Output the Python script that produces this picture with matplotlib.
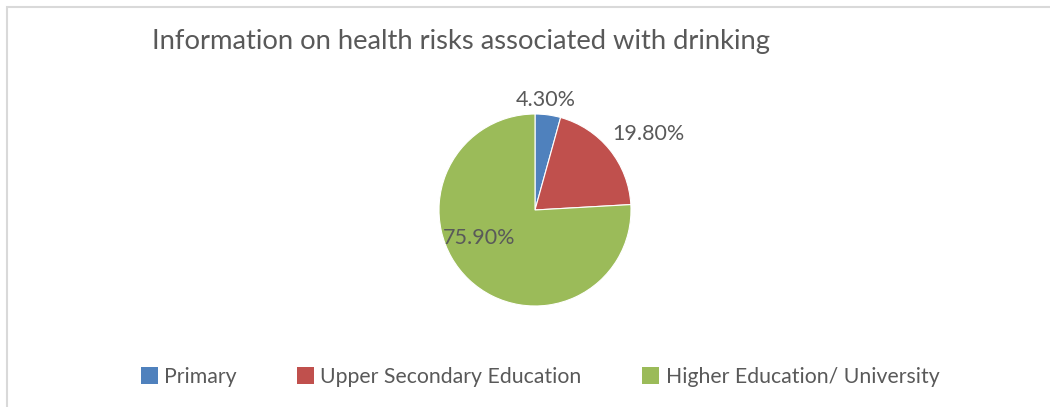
import matplotlib
matplotlib.use("Agg")
import matplotlib.pyplot as plt
from matplotlib.patches import Rectangle, Patch

plt.rcParams['font.family'] = ['Lato', 'DejaVu Sans']

title = "Information on health risks associated with drinking"
categories = ["Primary", "Upper Secondary Education", "Higher Education/ University"]
values = [4.3, 19.8, 75.9]
labels = ["4.30%", "19.80%", "75.90%"]
colors = ["#4F81BD", "#C0504D", "#9BBB59"]
txt = "#595959"

W, H = 1050, 407
fig = plt.figure(figsize=(W / 100, H / 100), dpi=100)

# chart border (only left/top inside the picture)
fig.patches.append(Rectangle((7 / W, -0.1), 1.2, (H - 7) / H + 0.1, transform=fig.transFigure,
                             fill=False, edgecolor="#D9D9D9", linewidth=1.5))

fig.text(152 / W, 1 - 42 / H, title, fontsize=19.7, color=txt, va="center", ha="left")

cx, cy, r = 535, 210, 96
ax = fig.add_axes([(cx - r) / W, 1 - (cy + r) / H, 2 * r / W, 2 * r / H])
ax.pie(values, colors=colors, startangle=90, counterclock=False,
       wedgeprops=dict(edgecolor="white", linewidth=0.8))
ax.set_xlim(-1, 1)
ax.set_ylim(-1, 1)
ax.axis("off")

label_pos = [(546, 100), (648, 134), (479, 238)]
for (x, y), lab in zip(label_pos, labels):
    fig.text(x / W, 1 - y / H, lab, fontsize=15.5, color=txt, ha="center", va="center")

handles = [Patch(facecolor=c, edgecolor="none") for c in colors]
leg = fig.legend(handles, categories, loc="center", bbox_to_anchor=(540 / W, 1 - 377 / H),
                 ncol=3, frameon=False, fontsize=15.3, handlelength=0.8, handleheight=0.8,
                 handletextpad=0.3, columnspacing=2.85, labelcolor=txt)

fig.savefig("out.png", dpi=100)
